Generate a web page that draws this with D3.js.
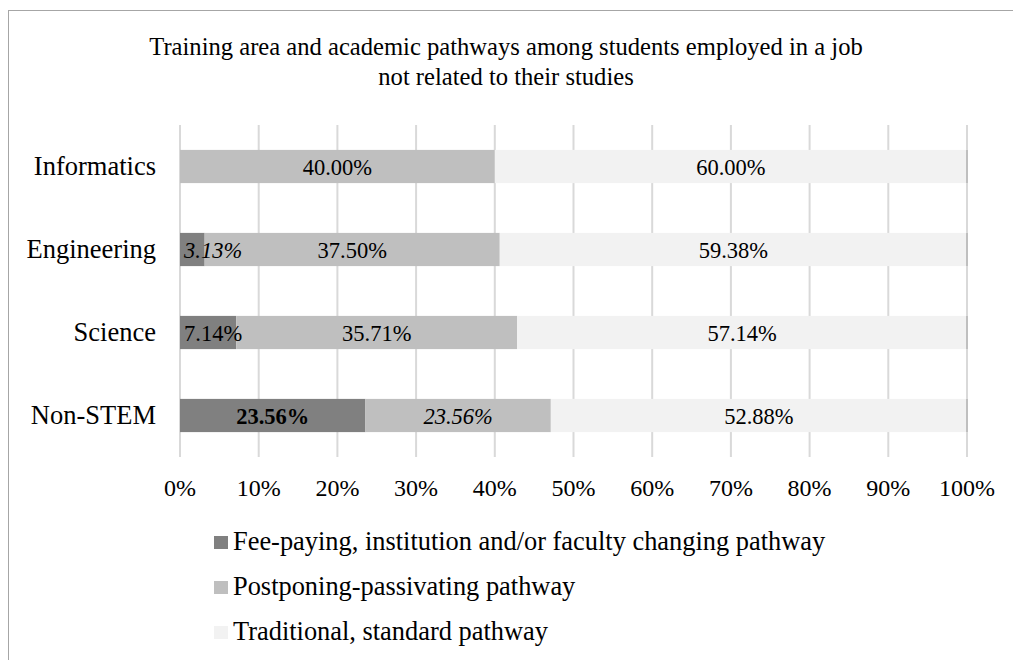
<!DOCTYPE html>
<html><head><meta charset="utf-8">
<script src="https://cdn.jsdelivr.net/npm/d3@7"></script>
<style>body{margin:0;background:#fff}svg{display:block}svg text{font-family:"Liberation Serif","Times New Roman",Times,serif}</style>
</head><body>
<svg id="c" width="1013" height="660"></svg>
<script>
const categories = ["Informatics","Engineering","Science","Non-STEM"];
const seriesNames = ["Fee-paying, institution and/or faculty changing pathway","Postponing-passivating pathway","Traditional, standard pathway"];
const feePaying = [0, 3.13, 7.14, 23.56];
const postponing = [40.00, 37.50, 35.71, 23.56];
const traditional = [60.00, 59.38, 57.14, 52.88];
const tickValues = [0,10,20,30,40,50,60,70,80,90,100];
const titleLines = ["Training area and academic pathways among students employed in a job","not related to their studies"];

const colors = ["#808080","#bfbfbf","#f2f2f2"];
const labelStyle = {
  "Engineering|0": {italic:true}, "Non-STEM|0": {bold:true}, "Non-STEM|1": {italic:true}
};
const svg = d3.select("#c");

svg.append("rect").attr("x",8.5).attr("y",10.5).attr("width",1100).attr("height",800)
  .attr("fill","none").attr("stroke","#a6a6a6").attr("stroke-width",1);

const m = {left:180, right:967, top:125, bottom:457};
const x = d3.scaleLinear().domain([0,100]).range([m.left,m.right]);
const y = d3.scaleBand().domain(categories).range([m.top,m.bottom]).paddingInner(0.6).paddingOuter(0.3);

svg.append("g").selectAll("text").data(titleLines).join("text")
  .attr("x",506).attr("y",(d,i)=>55+i*30).attr("text-anchor","middle")
  .attr("font-size",24.6).attr("fill","#000").text(d=>d);

svg.append("g").selectAll("line").data(tickValues).join("line")
  .attr("x1",d=>x(d)).attr("x2",d=>x(d)).attr("y1",m.top).attr("y2",m.bottom)
  .attr("stroke","#d9d9d9").attr("stroke-width",2);

const stackData = categories.map((c,i)=>({cat:c, s0:feePaying[i], s1:postponing[i], s2:traditional[i]}));
const stack = d3.stack().keys(["s0","s1","s2"])(stackData);

const g = svg.append("g");
stack.forEach((layer,li)=>{
  g.selectAll(null).data(layer).join("rect")
    .attr("x",d=>x(d[0])).attr("width",d=>Math.max(0,x(d[1])-x(d[0])))
    .attr("y",d=>y(d.data.cat)).attr("height",y.bandwidth())
    .attr("fill",colors[li]);
});
g.selectAll(null).data(categories).join("line")
  .attr("x1",x(100)).attr("x2",x(100)).attr("y1",d=>y(d)).attr("y2",d=>y(d)+y.bandwidth())
  .attr("stroke","#bfbfbf").attr("stroke-width",2);

const lg = svg.append("g");
stack.forEach((layer,li)=>{
  layer.forEach(d=>{
    const v = d[1]-d[0];
    if (v<=0) return;
    const st = labelStyle[d.data.cat+"|"+li] || {};
    const t = lg.append("text")
      .attr("y",y(d.data.cat)+y.bandwidth()/2+8)
      .attr("text-anchor","middle").attr("font-size",22.5)
      .attr("font-style",st.italic?"italic":"normal").attr("font-weight",st.bold?"bold":"normal")
      .attr("fill","#000").text(v.toFixed(2)+"%");
    const w = t.node().getComputedTextLength();
    const mid = (x(d[0])+x(d[1]))/2;
    t.attr("x", Math.max(mid, x(d[0]) + w/2 + 4));
  });
});

svg.append("g").selectAll("text").data(categories).join("text")
  .attr("x",156).attr("y",d=>y(d)+y.bandwidth()/2+8.5)
  .attr("text-anchor","end").attr("font-size",26.5).attr("fill","#000").text(d=>d);

svg.append("g").selectAll("text").data(tickValues).join("text")
  .attr("x",d=>x(d)).attr("y",496).attr("text-anchor","middle")
  .attr("font-size",24).attr("fill","#000").text(d=>d+"%");

const leg = svg.append("g");
seriesNames.forEach((n,i)=>{
  leg.append("rect").attr("x",214).attr("y",536+i*45).attr("width",14).attr("height",13).attr("fill",colors[i]);
  leg.append("text").attr("x",233).attr("y",550+i*45)
    .attr("font-size",26.4).attr("fill","#000").text(n);
});
</script>
</body></html>
